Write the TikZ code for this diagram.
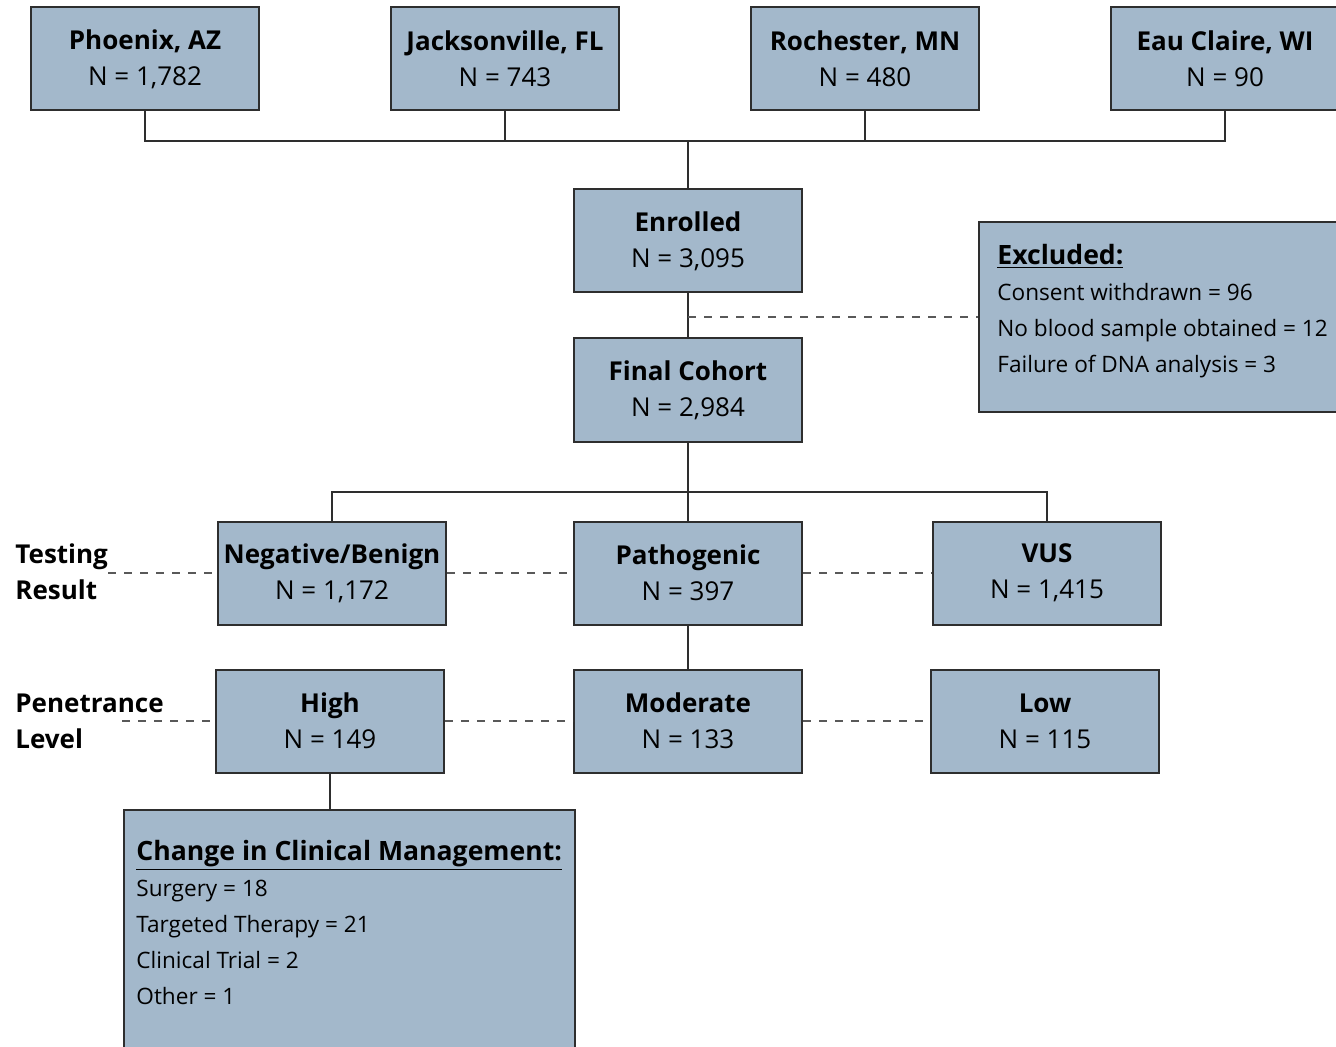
\documentclass[tikz,border=0pt]{standalone}
\usepackage{fontspec}
\setmainfont{Open Sans}
\usetikzlibrary{arrows.meta,calc,positioning}
\definecolor{boxblue}{HTML}{A3B8CB}
\definecolor{boxline}{HTML}{2E2E2E}
\tikzset {
  >=Stealth,
  every node/.style={font=\fontsize{13}{18}\selectfont},
  box/.style={draw=boxline,line width=1pt,fill=boxblue,minimum width=114pt,
    minimum height=51.5pt,align=center,inner sep=2pt},
  listtext/.style={anchor=north west,align=left,inner sep=0pt,
    font=\fontsize{11.3}{18}\selectfont},
  link/.style={draw=boxline,line width=0.9pt},
  dashline/.style={draw=black!65,line width=0.7pt,dash pattern=on 4pt off 4pt},
}

\begin{document}
\begin{tikzpicture}[x=0.5pt,y=-0.5pt]
  \clip (0,0) rectangle (1336,1047);
  \fill[white] (0,0) rectangle (1336,1047);

  % sites
  \node[box] (phx) at (145,59) {\textbf{Phoenix, AZ}\\N = 1,782};
  \node[box] (jax) at (505,59) {\textbf{Jacksonville, FL}\\N = 743};
  \node[box] (roc) at (865,59) {\textbf{Rochester, MN}\\N = 480};
  \node[box] (eau) at (1225,59) {\textbf{Eau Claire, WI}\\N = 90};
  \coordinate (hub) at (688,141);

  \node[box] (enr) at (688,241) {\textbf{Enrolled}\\N = 3,095};
  \node[box] (fin) at (688,390) {\textbf{Final Cohort}\\N = 2,984};

  % exclusions
  \node[box,anchor=north west,minimum width=190pt,minimum height=95pt] (exc) at (978,221) {};
  \node[listtext] (exctxt) at (997,244) {%
    {\fontsize{13.3}{18}\selectfont\underline{\textbf{Excluded:}}}\\
    Consent withdrawn = 96\\
    No blood sample obtained = 12\\
    Failure of DNA analysis = 3};

  % testing result
  \coordinate (split) at (688,492);
  \node[box] (neg) at (332,573) {\textbf{Negative/Benign}\\N = 1,172};
  \node[box] (pat) at (688,573) {\textbf{Pathogenic}\\N = 397};
  \node[box] (vus) at (1047,573) {\textbf{VUS}\\N = 1,415};
  \node[anchor=west,align=left,inner sep=0pt] (testlbl) at (15,572) {\textbf{Testing}\\\textbf{Result}};
  \coordinate (testend) at (108,573);

  % penetrance
  \node[box] (high) at (330,721) {\textbf{High}\\N = 149};
  \node[box] (mod) at (688,721) {\textbf{Moderate}\\N = 133};
  \node[box] (low) at (1045,721) {\textbf{Low}\\N = 115};
  \node[anchor=west,align=left,inner sep=0pt] (penlbl) at (15,721) {\textbf{Penetrance}\\\textbf{Level}};
  \coordinate (penend) at (122,721);

  % management
  \node[box,anchor=north west,minimum width=225.5pt,minimum height=140pt] (chg) at (123,809) {};
  \node[listtext] (chgtxt) at (136,840) {%
    {\fontsize{13.3}{18}\selectfont\underline{\textbf{Change in Clinical Management:}}}\\
    Surgery = 18\\
    Targeted Therapy = 21\\
    Clinical Trial = 2\\
    Other = 1};

  \draw[link] (phx.south) |- (hub) -- (enr.north);
  \draw[link] (jax.south) |- (hub);
  \draw[link] (roc.south) |- (hub);
  \draw[link] (eau.south) |- (hub);
  \draw[link] (enr.south) -- (fin.north);
  \draw[dashline] (exc.west -| enr.south) -- (exc.west);
  \draw[link] (fin.south) -- (split) -- (pat.north);
  \draw[link] (neg.north) |- (split) -| (vus.north);
  \draw[dashline] (testend) -- (neg.west);
  \draw[dashline] (neg.east) -- (pat.west);
  \draw[dashline] (pat.east) -- (vus.west);
  \draw[link] (pat.south) -- (mod.north);
  \draw[dashline] (penend) -- (high.west);
  \draw[dashline] (high.east) -- (mod.west);
  \draw[dashline] (mod.east) -- (low.west);
  \draw[link] (high.south) -- (high.south |- chg.north);
\end{tikzpicture}
\end{document}
